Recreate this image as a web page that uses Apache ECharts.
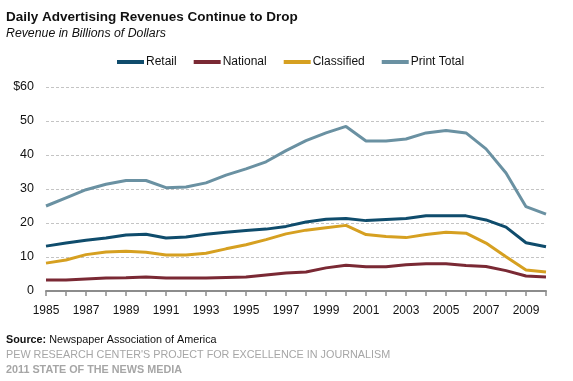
<!DOCTYPE html>
<html><head><meta charset="utf-8">
<script src="https://cdn.jsdelivr.net/npm/echarts@6/dist/echarts.min.js"></script>
<style>html,body{margin:0;padding:0;background:#fff}#c{width:573px;height:381px}</style>
</head><body><div id="c"></div>
<script>
const years = ['1985','1986','1987','1988','1989','1990','1991','1992','1993','1994','1995','1996','1997','1998','1999','2000','2001','2002','2003','2004','2005','2006','2007','2008','2009','2010'];
const retail = [13.2,14.1,14.9,15.6,16.5,16.7,15.6,15.9,16.7,17.3,17.8,18.2,19.0,20.3,21.1,21.3,20.7,21.0,21.3,22.1,22.1,22.1,20.9,18.8,14.2,13.0];
const national = [3.2,3.2,3.5,3.8,3.9,4.1,3.8,3.8,3.8,4.0,4.1,4.7,5.3,5.6,6.8,7.6,7.1,7.1,7.7,8.0,8.0,7.5,7.2,6.0,4.4,4.1];
const classified = [8.2,9.1,10.7,11.5,11.7,11.4,10.6,10.6,11.1,12.4,13.6,15.1,16.8,17.9,18.6,19.3,16.6,16.0,15.7,16.6,17.3,17.0,14.1,10.1,6.2,5.6];
const printTotal = [25.0,27.4,29.8,31.4,32.5,32.5,30.4,30.6,31.8,34.1,35.9,38.0,41.3,44.2,46.5,48.4,44.1,44.1,44.7,46.5,47.2,46.5,41.8,34.7,24.8,22.6];
const seriesNames = ['Retail','National','Classified','Print Total'];
const seriesColors = ['#0f4c6c','#7a2934','#d6a021','#6a91a2'];
const yTicks = {min:0, max:60, interval:10};

const chart = echarts.init(document.getElementById('c'));
const dataSets = [retail, national, classified, printTotal];
const F = 'Liberation Sans, Arial, sans-serif';
chart.setOption({
  animation:false,
  textStyle:{fontFamily:F},
  title:[
    {text:'Daily Advertising Revenues Continue to Drop', left:6, top:10, padding:0,
     textStyle:{fontSize:13.5, fontWeight:'bold', color:'#111', fontFamily:F}},
    {text:'Revenue in Billions of Dollars', left:6, top:28, padding:0,
     textStyle:{fontSize:12.3, fontStyle:'italic', fontWeight:'normal', color:'#111', fontFamily:F}},
    {text:'{b|Source:} Newspaper Association of America', left:6, top:335, padding:0,
     textStyle:{fontSize:10.8, fontWeight:'normal', color:'#111', fontFamily:F,
       rich:{b:{fontWeight:'bold', fontSize:10.8, color:'#111', fontFamily:F}}}},
    {text:"PEW RESEARCH CENTER'S PROJECT FOR EXCELLENCE IN JOURNALISM", left:6, top:350, padding:0,
     textStyle:{fontSize:10.8, fontWeight:'normal', color:'#a6a6a6', fontFamily:F}},
    {text:'2011 STATE OF THE NEWS MEDIA', left:6, top:365, padding:0,
     textStyle:{fontSize:10.8, fontWeight:'bold', color:'#a6a6a6', fontFamily:F}}
  ],
  legend:{
    data:seriesNames, left:112, top:51, icon:'rect', itemWidth:27, itemHeight:4, itemGap:17,
    textStyle:{fontSize:12, color:'#111', padding:[0,0,0,-3]}
  },
  grid:{left:46, right:27, top:87, bottom:90, containLabel:false},
  xAxis:{
    type:'category', data:years, boundaryGap:false,
    axisLine:{lineStyle:{color:'#8c8c8c', width:2}},
    axisTick:{show:true, interval:0, length:5, lineStyle:{color:'#8c8c8c', width:1.5}},
    axisLabel:{interval:1, color:'#111', fontSize:12, margin:14}
  },
  yAxis:{
    type:'value', min:yTicks.min, max:yTicks.max, interval:yTicks.interval,
    axisLine:{show:false}, axisTick:{show:false},
    axisLabel:{color:'#111', fontSize:12.5, margin:12, formatter:v=> v===60 ? '$60' : String(v)},
    splitLine:{lineStyle:{color:'#c4c4c4', type:[3,2], width:1}}
  },
  series: seriesNames.map((n,i)=>({
    name:n, type:'line', data:dataSets[i], symbol:'none', smooth:false,
    lineStyle:{width:3, color:seriesColors[i]}, itemStyle:{color:seriesColors[i]}
  }))
});
</script></body></html>
